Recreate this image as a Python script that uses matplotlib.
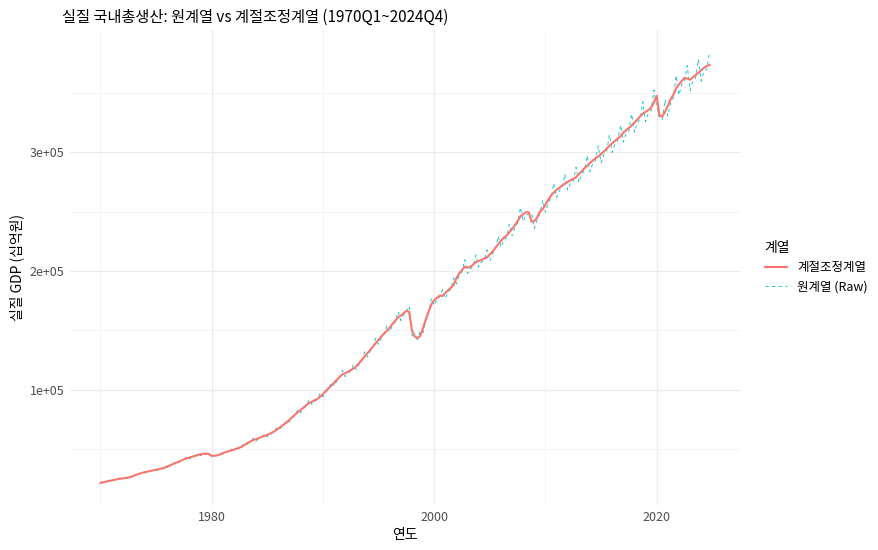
import numpy as np
import matplotlib
matplotlib.use("Agg")
import matplotlib.pyplot as plt
from matplotlib.ticker import FixedLocator

plt.rcParams['font.family'] = ['Noto Sans CJK KR', 'DejaVu Sans']

#############################################################################################
# quarterly values, thousand billion won (x1000 = 십억원)
years = list(range(1970, 2025))

sa_q = [
	[21.8, 22.3, 22.8, 23.3], [23.8, 24.3, 24.8, 25.2], [25.5, 25.8, 26.3, 26.8], [27.8, 28.7, 29.5, 30.2],
	[30.8, 31.3, 31.8, 32.3], [32.8, 33.3, 33.8, 34.5], [35.5, 36.5, 37.5, 38.5], [39.5, 40.5, 41.5, 42.5],
	[43.0, 43.8, 44.5, 45.2], [45.8, 46.2, 46.4, 46.0], [44.5, 44.6, 45.0, 45.6], [46.8, 47.6, 48.3, 49.0],
	[49.8, 50.6, 51.4, 52.3], [54.0, 55.5, 56.7, 57.8], [58.6, 59.6, 60.5, 61.3], [62.2, 63.2, 64.5, 65.8],
	[67.5, 69.3, 71.0, 72.8], [75.0, 77.2, 79.3, 81.2], [83.0, 85.0, 87.0, 89.0], [90.0, 91.2, 92.5, 94.3],
	[96.5, 99.0, 101.3, 103.5], [106.0, 108.5, 111.0, 113.0], [114.0, 115.3, 116.6, 118.0], [120.0, 122.5, 125.3, 128.2],
	[131.0, 133.7, 136.5, 139.3], [142.0, 145.0, 147.5, 149.8], [152.5, 155.5, 158.3, 161.0], [162.5, 164.5, 166.5, 165.5],
	[150.0, 145.0, 143.5, 145.5], [152.0, 159.5, 166.0, 172.0], [175.5, 177.5, 179.5, 179.0], [181.5, 184.0, 186.0, 188.5],
	[194.0, 198.0, 201.0, 203.5], [203.0, 203.5, 205.5, 207.5], [208.5, 209.5, 210.5, 211.5], [214.0, 216.5, 219.5, 222.5],
	[225.5, 228.0, 230.0, 232.5], [235.5, 238.5, 242.0, 246.0], [248.0, 249.5, 249.5, 241.5], [242.0, 245.0, 250.0, 252.0],
	[256.0, 260.0, 263.5, 266.0], [268.5, 270.0, 272.0, 273.5], [275.0, 276.5, 277.5, 279.0], [281.5, 284.0, 286.5, 288.5],
	[291.0, 293.0, 295.0, 296.5], [298.5, 300.5, 303.0, 305.5], [307.5, 309.5, 311.5, 313.5], [316.5, 318.5, 320.5, 322.5],
	[325.0, 327.5, 330.0, 332.5], [334.0, 335.5, 337.5, 342.0], [347.5, 331.0, 330.0, 334.0], [339.0, 344.5, 348.5, 354.0],
	[357.0, 360.0, 362.5, 362.0], [361.0, 363.0, 365.0, 367.0], [369.0, 371.0, 372.5, 373.5],
]

raw_q = [
	[21.3, 22.1, 22.6, 24.0], [23.2, 24.1, 24.6, 26.0], [24.9, 25.6, 26.1, 27.6], [27.1, 28.4, 29.3, 31.1],
	[30.0, 31.0, 31.6, 33.3], [32.0, 33.0, 33.6, 35.5], [34.6, 36.2, 37.2, 39.7], [38.5, 40.1, 41.2, 43.8],
	[41.9, 43.4, 44.2, 46.6], [44.6, 45.8, 46.1, 47.4], [43.4, 44.2, 44.7, 47.0], [45.6, 47.2, 48.0, 50.5],
	[48.5, 50.2, 51.0, 53.9], [52.6, 55.0, 56.3, 59.5], [57.1, 59.1, 60.1, 63.1], [60.6, 62.7, 64.0, 67.8],
	[65.8, 68.7, 70.5, 75.0], [73.1, 76.5, 78.7, 83.6], [80.9, 84.3, 86.4, 91.7], [87.7, 90.4, 91.8, 97.1],
	[94.1, 98.2, 100.6, 106.6], [103.3, 107.6, 110.2, 116.4], [111.1, 114.3, 115.8, 121.5], [117.0, 121.5, 124.4, 132.0],
	[127.7, 132.6, 135.5, 143.5], [138.4, 143.8, 146.5, 154.3], [148.7, 154.2, 157.2, 165.8], [158.4, 163.2, 165.3, 170.5],
	[146.2, 143.8, 142.5, 149.9], [148.2, 158.2, 164.8, 177.2], [171.1, 176.1, 178.2, 184.4], [176.9, 182.5, 184.7, 194.2],
	[189.1, 196.4, 199.6, 209.6], [197.9, 201.9, 204.1, 213.7], [203.3, 207.8, 209.0, 217.8], [208.6, 214.8, 218.0, 229.2],
	[219.9, 226.2, 228.4, 239.5], [229.6, 236.6, 240.3, 253.4], [241.8, 247.5, 247.8, 248.7], [236.0, 243.0, 248.3, 259.6],
	[249.6, 257.9, 261.6, 274.0], [261.8, 267.8, 270.1, 281.7], [268.1, 274.3, 275.6, 287.4], [274.5, 281.7, 284.5, 297.2],
	[283.7, 290.7, 292.9, 305.4], [291.0, 298.1, 300.9, 314.7], [299.8, 307.0, 309.3, 322.9], [308.6, 316.0, 318.3, 332.2],
	[316.9, 324.9, 327.7, 342.5], [325.7, 332.8, 335.1, 352.3], [338.8, 328.4, 327.7, 344.0], [330.5, 341.7, 346.1, 364.6],
	[348.1, 357.1, 360.0, 372.9], [352.0, 360.1, 362.4, 378.0], [359.8, 368.0, 369.9, 384.7],
]

x_ticks = [1980, 2000, 2020]
y_ticks = [100000, 200000, 300000]
y_labels = ['1e+05', '2e+05', '3e+05']

#############################################################################################

t = np.array([y + q / 4.0 for y in years for q in range(4)])
sa = np.array(sa_q).ravel() * 1000
raw = np.array(raw_q).ravel() * 1000

fig = plt.figure(figsize=(8.79, 5.5), dpi=100)
ax = fig.add_axes([70 / 879, 45 / 550, 670 / 879, 475 / 550])

ax.plot(t, sa, color='#F8766D', lw=1.5, label='계절조정계열', zorder=3)
ax.plot(t, raw, color='#00BFC4', lw=0.6, dashes=(4, 4), label='원계열 (Raw)', zorder=2)

def expand(lo, hi):
	d = (hi - lo) * 0.05
	return lo - d, hi + d

ax.set_xlim(*expand(t.min(), t.max()))
lo = min(sa.min(), raw.min()); hi = max(sa.max(), raw.max())
ax.set_ylim(*expand(lo, hi))

ax.set_xticks(x_ticks)
ax.set_yticks(y_ticks)
ax.set_yticklabels(y_labels)
ax.xaxis.set_minor_locator(FixedLocator([1970, 1990, 2010]))
ax.yaxis.set_minor_locator(FixedLocator([50000, 150000, 250000, 350000]))
ax.grid(which='major', color='#EBEBEB', lw=0.9)
ax.grid(which='minor', color='#F2F2F2', lw=0.6)
ax.set_axisbelow(True)
for s in ax.spines.values():
	s.set_visible(False)
ax.tick_params(which='both', length=0, labelsize=9, labelcolor='#4D4D4D', pad=4)

ax.set_xlabel('연도', fontsize=10, color='black', labelpad=3)
ax.set_ylabel('실질 GDP (십억원)', fontsize=10, color='black', labelpad=4)
fig.text(62 / 879, 1 - 17 / 550, '실질 국내총생산: 원계열 vs 계절조정계열 (1970Q1~2024Q4)',
	fontsize=11, va='center', ha='left')

leg = ax.legend(loc='center left', bbox_to_anchor=(1.02, 0.5), frameon=False,
	title='계열', fontsize=9, title_fontsize=10, handlelength=1.8, alignment='left')

fig.savefig('out.png', dpi=100)
